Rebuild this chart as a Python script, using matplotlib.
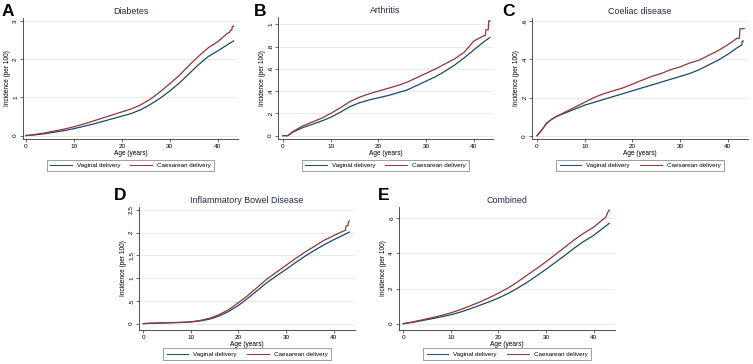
import matplotlib
matplotlib.use("Agg")
import matplotlib.pyplot as plt
from matplotlib.lines import Line2D

plt.rcParams['font.family'] = ['Liberation Sans', 'DejaVu Sans']

W, H = 753, 364

# shared age grid (years)
age = [0, 1, 2, 3, 4, 6, 8, 10, 12, 14, 16, 18, 20, 22, 24, 26, 28, 30, 32, 34, 36, 38, 40, 42]

# A - Diabetes
diab_vag = [0, 0.01, 0.02, 0.035, 0.05, 0.09, 0.13, 0.18, 0.24, 0.30, 0.37, 0.44, 0.51, 0.58,
            0.68, 0.82, 0.98, 1.17, 1.38, 1.62, 1.86, 2.07, 2.22, 2.38]
diab_vag_tail = ([43.3], [2.48])
diab_cs = [0, 0.012, 0.03, 0.05, 0.07, 0.12, 0.17, 0.23, 0.30, 0.38, 0.46, 0.54, 0.62, 0.70,
           0.81, 0.96, 1.15, 1.36, 1.58, 1.84, 2.08, 2.30, 2.46, 2.68]
diab_cs_tail = ([42.4, 42.6, 42.9, 43.0, 43.3], [2.70, 2.76, 2.76, 2.85, 2.87])

# B - Arthritis
arth_vag = [0, 0.0, 0.03, 0.05, 0.07, 0.10, 0.13, 0.165, 0.21, 0.26, 0.295, 0.32, 0.34, 0.36,
            0.385, 0.41, 0.45, 0.49, 0.53, 0.58, 0.635, 0.70, 0.77, 0.84]
arth_vag_tail = ([43.3], [0.88])
arth_cs = [0, 0.0, 0.035, 0.06, 0.085, 0.12, 0.155, 0.20, 0.25, 0.305, 0.345, 0.375, 0.40, 0.425,
           0.45, 0.48, 0.52, 0.56, 0.60, 0.645, 0.69, 0.75, 0.85, 0.895]
arth_cs_tail = ([42.4, 42.5, 43.0, 43.1, 43.4], [0.90, 0.95, 0.95, 1.03, 1.03])

# C - Coeliac disease
coel_vag = [0, 0.03, 0.065, 0.085, 0.10, 0.12, 0.14, 0.16, 0.175, 0.19, 0.205, 0.22, 0.235, 0.25,
            0.265, 0.28, 0.295, 0.31, 0.325, 0.345, 0.37, 0.395, 0.425, 0.46]
coel_vag_tail = ([43.0, 43.1, 43.3], [0.475, 0.495, 0.495])
coel_cs = [0, 0.03, 0.065, 0.085, 0.10, 0.125, 0.15, 0.175, 0.20, 0.22, 0.235, 0.25, 0.27, 0.29,
           0.31, 0.325, 0.345, 0.36, 0.38, 0.395, 0.42, 0.445, 0.475, 0.51]
coel_cs_tail = ([42.5, 42.6, 43.5], [0.51, 0.56, 0.56])

# D - IBD
ibd_vag = [0, 0.005, 0.01, 0.012, 0.015, 0.02, 0.025, 0.035, 0.06, 0.10, 0.17, 0.27, 0.40, 0.56,
           0.73, 0.90, 1.05, 1.19, 1.34, 1.48, 1.61, 1.73, 1.84, 1.94]
ibd_vag_tail = ([43.3], [2.01])
ibd_cs = [0, 0.005, 0.01, 0.013, 0.017, 0.022, 0.028, 0.04, 0.07, 0.12, 0.20, 0.31, 0.46, 0.62,
          0.80, 0.98, 1.13, 1.28, 1.43, 1.57, 1.70, 1.83, 1.93, 2.03]
ibd_cs_tail = ([42.5, 42.6, 43.0, 43.1, 43.3], [2.05, 2.14, 2.15, 2.23, 2.25])

# E - Combined
comb_vag = [0, 0.04, 0.08, 0.13, 0.18, 0.28, 0.39, 0.51, 0.66, 0.84, 1.04, 1.24, 1.46, 1.72,
            2.02, 2.35, 2.72, 3.10, 3.50, 3.90, 4.32, 4.70, 5.03, 5.45]
comb_vag_tail = ([43.3], [5.72])
comb_cs = [0, 0.05, 0.10, 0.16, 0.22, 0.34, 0.47, 0.62, 0.80, 1.01, 1.23, 1.47, 1.74, 2.03,
           2.38, 2.76, 3.14, 3.53, 3.95, 4.37, 4.79, 5.17, 5.50, 5.95]
comb_cs_tail = ([42.5, 42.7, 42.9, 43.1, 43.3], [6.05, 6.15, 6.30, 6.40, 6.47])

titles = ["Diabetes", "Arthritis", "Coeliac disease", "Inflammatory Bowel Disease", "Combined"]
letters = ["A", "B", "C", "D", "E"]
yticks = [[0, 1, 2, 3], [0, .2, .4, .6, .8, 1], [0, .2, .4, .6],
          [0, .5, 1, 1.5, 2, 2.5], [0, 2, 4, 6]]
ytick_labels = [["0", "1", "2", "3"], ["0", ".2", ".4", ".6", ".8", "1"], ["0", ".2", ".4", ".6"],
                ["0", ".5", "1", "1.5", "2", "2.5"], ["0", "2", "4", "6"]]
xticks = [0, 10, 20, 30, 40]
series = [(diab_vag, diab_vag_tail, diab_cs, diab_cs_tail),
          (arth_vag, arth_vag_tail, arth_cs, arth_cs_tail),
          (coel_vag, coel_vag_tail, coel_cs, coel_cs_tail),
          (ibd_vag, ibd_vag_tail, ibd_cs, ibd_cs_tail),
          (comb_vag, comb_vag_tail, comb_cs, comb_cs_tail)]

# axes boxes in pixels: left, right, top, bottom ; axis limits
boxes = [(23, 238, 18, 139), (278, 493, 17, 139), (532, 748, 18, 139),
         (139, 355, 207, 330), (399, 615, 207, 330)]
xlims = [(-0.6, 44.2), (-1.05, 44.0), (-1.05, 44.3), (-0.9, 44.5), (-0.9, 44.5)]
ylims = [(-0.09, 3.08), (-0.03, 1.065), (-0.017, 0.616), (-0.14, 2.56), (-0.36, 6.65)]
legend_y = [-0.17, -0.17, -0.17, -0.15, -0.15]
# panel letter positions (pixels: left, baseline)
letter_pos = [(2, 16), (254, 16), (502, 16), (114, 200), (378, 200)]

VAG = "#1a476f"
CS = "#90353b"

fig = plt.figure(figsize=(W / 100, H / 100), dpi=100)
fig.patch.set_facecolor("white")

for i in range(5):
    l, r, t, b = boxes[i]
    ax = fig.add_axes([l / W, 1 - b / H, (r - l) / W, (b - t) / H])
    vag, vtail, cs, ctail = series[i]
    ax.plot(age + vtail[0], vag + vtail[1], color=VAG, lw=0.9)
    ax.plot(age + ctail[0], cs + ctail[1], color=CS, lw=0.9)
    ax.set_xlim(*xlims[i])
    ax.set_ylim(*ylims[i])
    ax.set_xticks(xticks)
    ax.set_xticklabels([str(x) for x in xticks])
    ax.set_yticks(yticks[i])
    ax.set_yticklabels(ytick_labels[i], rotation=90, va="center")
    ax.tick_params(labelsize=4.6, length=2, width=0.5, pad=1.5, color="#333333")
    ax.grid(axis="y", color="#e6e6e6", lw=0.6)
    ax.set_axisbelow(True)
    for s in ["top", "right"]:
        ax.spines[s].set_visible(False)
    for s in ["left", "bottom"]:
        ax.spines[s].set_linewidth(0.6)
        ax.spines[s].set_color("#333333")
    ax.set_title(titles[i], fontsize=6.4, color="#1e2a44", pad=3)
    ax.set_xlabel("Age (years)", fontsize=4.7, labelpad=0.5)
    ax.set_ylabel("Incidence (per 100)", fontsize=4.7, labelpad=1.5)
    handles = [Line2D([], [], color=VAG, lw=0.7), Line2D([], [], color=CS, lw=0.7)]
    leg = ax.legend(handles, ["Vaginal delivery", "Caesarean delivery"], ncol=2,
                    loc="upper center", bbox_to_anchor=(0.5, legend_y[i]), fontsize=4.5,
                    frameon=True, fancybox=False, handlelength=3.5, columnspacing=1.6,
                    handletextpad=0.8, borderpad=0.5, borderaxespad=0)
    leg.get_frame().set_edgecolor("#555555")
    leg.get_frame().set_linewidth(0.5)
    lx, ly = letter_pos[i]
    fig.text(lx / W, 1 - ly / H, letters[i], fontsize=12.5, fontweight="bold",
             ha="left", va="baseline")

fig.savefig("out.png", dpi=100)
